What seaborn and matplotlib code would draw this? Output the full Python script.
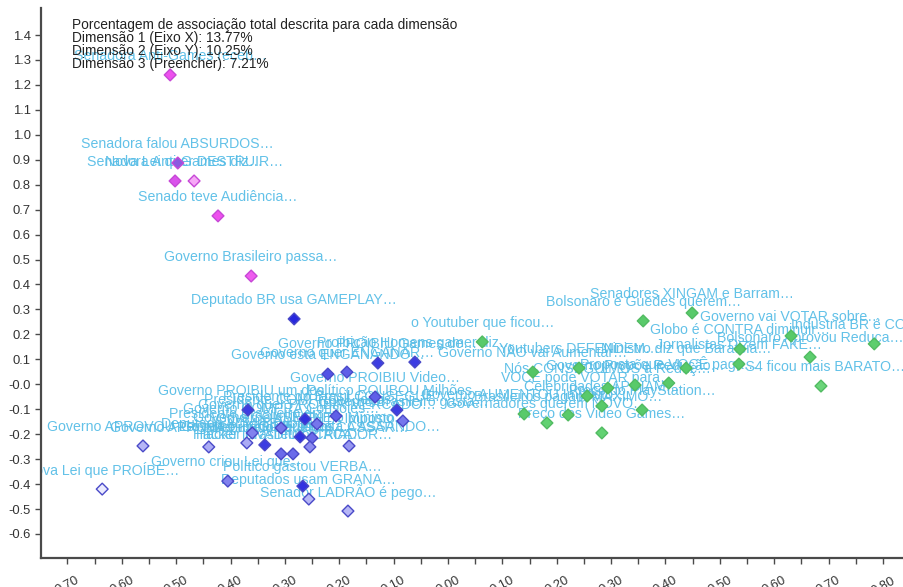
import numpy as np
import pandas as pd
import matplotlib
matplotlib.use("Agg")
import matplotlib.pyplot as plt
from matplotlib.colors import LinearSegmentedColormap
from matplotlib.ticker import FixedLocator, FuncFormatter
import seaborn as sns

# ---------------- data ----------------
labels = [
    # cluster magenta
    "Senadora Anti-Games receb…", "Senadora falou ABSURDOS…", "Senadora Anti-Games diz…",
    "Nova Lei quer DESTRUIR…", "Senado teve Audiência…", "Governo Brasileiro passa…",
    # cluster blue
    "Deputado BR usa GAMEPLAY…", "Governo está ENGANANDO…", "Governo quer ENGANAR…",
    "Governo PROIBIU Games de…", "Proibição Homens gamer diz…", "Governo PROIBIU Video…",
    "Governo PROIBIU um dos…", "Político ROUBOU Milhões…", "Presidente COMPROU Jogos…",
    "Presidente do Brasil CONSEGUE…", "Governo quer PROIBIR MERCADO…", "Governo Brasileiro gasta…",
    "Governo COMPRA Consoles…", "Presidente Brasileiro diz…", "Governo CONSEGUE o Mínimo…",
    "Governo AUMENTA Imposto…", "Governo APROVOU Lei que…", "Governo APROVA Projeto de…",
    "Deputado ADMITE Jogar…", "Governo PROÍBE Jogos…", "Deputados querem CASSAR…",
    "Governo está CASSANDO…", "Hacker Brasileiro ATACA…", "Hacker INVADIU o CRIADOR…",
    "Nova Lei que PROÍBE…", "Governo criou Lei que…", "Político gastou VERBA…",
    "Deputados usam GRANA…", "Senador LADRÃO é pego…",
    # cluster green
    "o Youtuber que ficou…", "Governo NÃO vai Aumentar…", "Youtubers DEFENDEM…",
    "Bolsonaro e Guedes querem…", "Senadores XINGAM e Barram…", "Governo vai VOTAR sobre…",
    "Globo é CONTRA diminuir…", "Industria BR é CONTRA…", "Bolsonaro Aprovou Reduça…",
    "Jornalistas Dizem FAKE…", "PS4 ficou mais BARATO…", "Ministro diz que Barateia…",
    "Proposta que VOCÊ paga…", "Nós CONSEGUIMOS a Reduç…", "Governo Propõe Redução…",
    "VOCÊ pode VOTAR para…", "Celebridades APOIAM…", "Preço do PlayStation…",
    "Governo AUMENTOU Imposto…", "Brasileiros pagam MÁXIMO…", "Governadores querem NOVO…",
    "Preço dos Video Games…",
]

dim1 = [
    -0.511, -0.497, -0.502, -0.467, -0.423, -0.362,
    -0.283, -0.221, -0.186, -0.129, -0.061, -0.134, -0.368, -0.094, -0.263,
    -0.206, -0.241, -0.083, -0.307, -0.360, -0.272, -0.250, -0.561, -0.440,
    -0.370, -0.337, -0.254, -0.182, -0.307, -0.285, -0.636, -0.405, -0.267,
    -0.256, -0.184,
    0.063, 0.156, 0.241, 0.359, 0.449, 0.631, 0.537, 0.784, 0.666, 0.535,
    0.686, 0.438, 0.406, 0.294, 0.344, 0.256, 0.283, 0.357, 0.140, 0.221,
    0.182, 0.283,
]

dim2 = [
    1.240, 0.887, 0.815, 0.815, 0.675, 0.434,
    0.262, 0.041, 0.049, 0.085, 0.089, -0.051, -0.103, -0.103, -0.139,
    -0.127, -0.159, -0.147, -0.175, -0.195, -0.211, -0.215, -0.247, -0.251,
    -0.235, -0.243, -0.251, -0.247, -0.279, -0.279, -0.420, -0.388, -0.408,
    -0.460, -0.508,
    0.170, 0.049, 0.065, 0.254, 0.286, 0.194, 0.141, 0.162, 0.109, 0.081,
    -0.007, 0.065, 0.005, -0.015, -0.003, -0.047, -0.087, -0.103, -0.119, -0.123,
    -0.155, -0.195,
]

cluster = ["A"] * 6 + ["B"] * 29 + ["C"] * 22

dim3 = [
    0.50, 1.00, 0.60, 0.15, 0.50, 0.45,
    0.95, 0.75, 0.70, 0.85, 0.85, 0.70, 0.85, 0.85, 0.90,
    0.70, 0.60, 0.60, 0.60, 0.55, 0.90, 0.65, 0.30, 0.35,
    0.35, 0.85, 0.50, 0.45, 0.65, 0.65, 0.05, 0.55, 0.90,
    0.30, 0.30,
    0.60, 0.65, 0.60, 0.60, 0.60, 0.60, 0.60, 0.55, 0.55, 0.60,
    0.45, 0.60, 0.60, 0.60, 0.60, 0.60, 0.60, 0.60, 0.60, 0.60,
    0.50, 0.50,
]

title_lines = [
    "Porcentagem de associação total descrita para cada dimensão",
    "Dimensão 1 (Eixo X): 13.77%",
    "Dimensão 2 (Eixo Y): 10.25%",
    "Dimensão 3 (Preencher): 7.21%",
]

df = pd.DataFrame({"label": labels, "dim1": dim1, "dim2": dim2,
                   "cluster": cluster, "dim3": dim3})

# ---------------- style ----------------
sns.set_style("white")
plt.rcParams["font.family"] = ["Liberation Sans", "DejaVu Sans"]

W, H, DPI = 904, 587, 100
fig = plt.figure(figsize=(W / DPI, H / DPI), dpi=DPI)
ax_l, ax_r, ax_t, ax_b = 41, 904, 8, 558
ax = fig.add_axes([ax_l / W, (H - ax_b) / H, (ax_r - ax_l) / W, (ax_b - ax_t) / H])

ramps = {
    "A": (["#f9cdf9", "#ee50ee", "#8c5ae0"], "#c648d6"),
    "B": (["#f4f4ff", "#8c8cf0", "#1c1cdc"], "#4a4ac8"),
    "C": (["#c0efc0", "#62d272", "#34a84a"], "#52bb62"),
}

for cl, (cols, edge) in ramps.items():
    sub = df[df["cluster"] == cl]
    cmap = LinearSegmentedColormap.from_list("c" + cl, cols)
    sns.scatterplot(data=sub, x="dim1", y="dim2", hue="dim3", palette=cmap,
                    hue_norm=(0, 1), marker="D", s=36, edgecolor=edge,
                    linewidth=1.0, legend=False, ax=ax, zorder=3)

for _, r in df.iterrows():
    ax.annotate(r["label"], (r["dim1"], r["dim2"]), xytext=(0, 19),
                textcoords="offset pixels", ha="center", va="center",
                fontsize=10.2, color="#55bce6", alpha=0.92, zorder=2,
                clip_on=True, annotation_clip=True)

ax.set_xlim((ax_l - 448) / 543.7, (ax_r - 448) / 543.7)
ax.set_ylim(1.4 - (ax_b - 35) / 249.5, 1.4 + (35 - ax_t) / 249.5)
ax.set_xlabel("")
ax.set_ylabel("")

ax.xaxis.set_major_locator(FixedLocator(np.round(np.arange(-0.7, 0.81, 0.1), 2)))
ax.xaxis.set_minor_locator(FixedLocator(np.round(np.arange(-0.75, 0.84, 0.05), 2)))
ax.xaxis.set_major_formatter(FuncFormatter(lambda v, p: f"{abs(v):.2f}"))
ax.yaxis.set_major_locator(FixedLocator(np.round(np.arange(-0.6, 1.41, 0.1), 2)))
ax.yaxis.set_major_formatter(
    FuncFormatter(lambda v, p: "-0.0" if abs(v) < 1e-9 else f"{v:.1f}"))

for s in ("top", "right"):
    ax.spines[s].set_visible(False)
for s in ("left", "bottom"):
    ax.spines[s].set_color("#4a4a4a")
    ax.spines[s].set_linewidth(1.6)

ax.tick_params(axis="both", which="both", direction="out", length=4,
               width=1, color="#4a4a4a", labelcolor="#333333", labelsize=9.4)
ax.tick_params(axis="both", which="both", bottom=True, left=True)
ax.tick_params(axis="x", which="major", pad=8)
for t in ax.get_xticklabels():
    t.set_rotation(28)

# title block
ys = [25, 38, 51, 64]
for line, yp in zip(title_lines, ys):
    fig.text(72 / W, 1 - yp / H, line, ha="left", va="center",
             fontsize=9.9, color="#222222", zorder=10)

fig.savefig("out.png", dpi=DPI)
